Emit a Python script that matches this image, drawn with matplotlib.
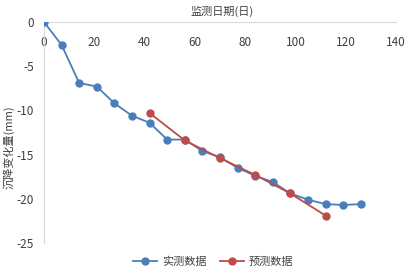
import matplotlib.pyplot as plt

plt.rcParams['font.family'] = ['Noto Sans CJK SC', 'DejaVu Sans']

# measured settlement (blue)
days_meas = [0, 7, 14, 21, 28, 35, 42, 49, 56, 63, 70, 77, 84, 91, 98, 105, 112, 119, 126]
settle_meas = [0, -2.6, -6.9, -7.3, -9.2, -10.6, -11.4, -13.3, -13.3, -14.6, -15.3,
               -16.5, -17.4, -18.1, -19.4, -20.1, -20.6, -20.7, -20.6]

# predicted settlement (red)
days_pred = [42, 56, 70, 84, 98, 112]
settle_pred = [-10.3, -13.4, -15.4, -17.3, -19.4, -21.9]

xticks = [0, 20, 40, 60, 80, 100, 120, 140]
yticks = [0, -5, -10, -15, -20, -25]

blue = '#4a7ebb'
red = '#be4b48'

fig = plt.figure(figsize=(4.06, 2.71), dpi=100)
ax = fig.add_axes([44 / 406, 1 - 243 / 271, 352 / 406, 221 / 271])

ax.plot(days_meas, settle_meas, '-o', color=blue, lw=1.3, ms=5, label='实测数据', zorder=3)
ax.plot(days_pred, settle_pred, '-o', color=red, lw=1.3, ms=5, label='预测数据', zorder=4)

ax.set_xlim(0, 140)
ax.set_ylim(-25, 0)
ax.set_xticks(xticks)
ax.set_yticks(yticks)
ax.set_yticklabels([str(v) for v in yticks])

ax.spines['bottom'].set_position(('data', 0))
ax.spines['top'].set_visible(False)
ax.spines['right'].set_visible(False)
for s in ('bottom', 'left'):
    ax.spines[s].set_color('#d9d9d9')
    ax.spines[s].set_linewidth(0.8)
ax.tick_params(length=0, labelsize=8.5, colors='#404040')
ax.tick_params(axis='x', pad=10)
ax.tick_params(axis='y', pad=7)

fig.text(222 / 406, 1 - 11 / 271, '监测日期(日)', ha='center', va='center', fontsize=8, color='#404040')
fig.text(9 / 406, 1 - 147 / 271, '沉降变化量(mm)', ha='center', va='center', rotation=90,
         fontsize=8, color='#404040')

fig.legend(loc='center', bbox_to_anchor=(213 / 406, 1 - 262 / 271), ncol=2, frameon=False,
           fontsize=8, handlelength=2.2, columnspacing=1.2, handletextpad=0.4)
for t in fig.legends[0].get_texts():
    t.set_color('#404040')

fig.savefig('out.png', dpi=100)
